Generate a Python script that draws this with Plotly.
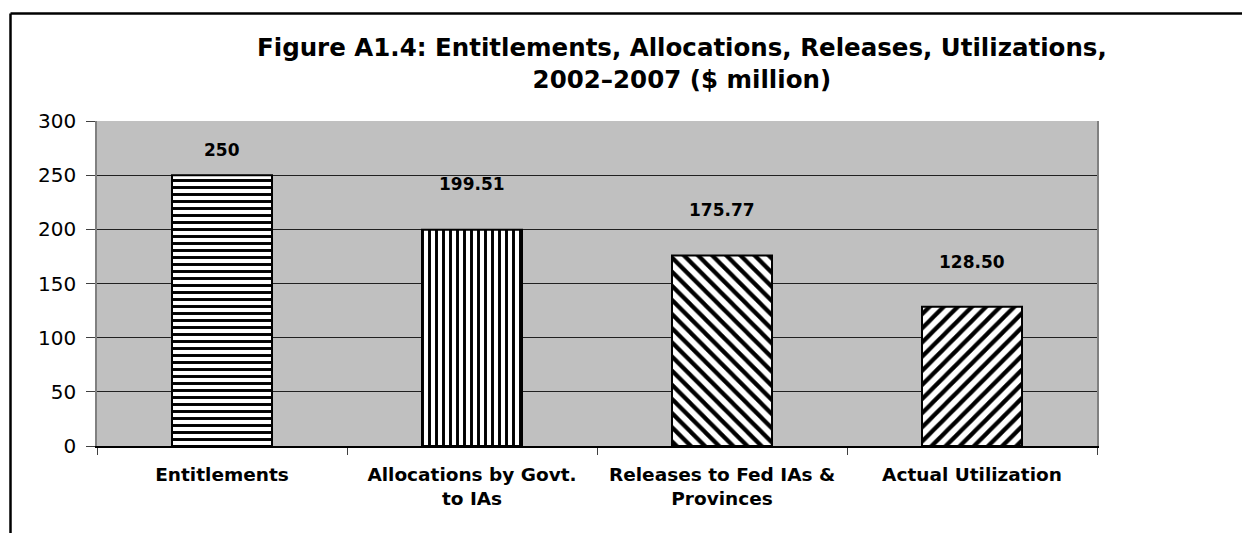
import plotly.graph_objects as go

categories = ["Entitlements", "Allocations by Govt.<br>to IAs", "Releases to Fed IAs &<br>Provinces", "Actual Utilization"]
values = [250, 199.51, 175.77, 128.50]
value_labels = ["250", "199.51", "175.77", "128.50"]
y_ticks = [0, 50, 100, 150, 200, 250, 300]

patterns = ["-", "|", "\\", "/"]
pattern_sizes = [7, 7, 10, 10]
label_shifts = [13, 34, 34, 33]

FONT = "DejaVu Sans, Arial"

fig = go.Figure()
fig.add_trace(go.Bar(
    x=categories, y=values,
    marker=dict(
        color="white",
        line=dict(color="black", width=2),
        pattern=dict(shape=patterns, fgcolor="black", bgcolor="white",
                     size=pattern_sizes, solidity=0.42, fillmode="replace"),
    ),
    width=0.4,
    hoverinfo="skip",
))

for c, v, t, s in zip(categories, values, value_labels, label_shifts):
    fig.add_annotation(x=c, y=v, text="<b>%s</b>" % t, showarrow=False,
                       yanchor="bottom", yshift=s,
                       font=dict(family=FONT, size=17, color="black"))

fig.add_annotation(
    text="<b>Figure A1.4: Entitlements, Allocations, Releases, Utilizations,<br>2002–2007 ($ million)</b>",
    xref="paper", yref="paper", x=0.585, y=1.178, xanchor="center", yanchor="middle",
    showarrow=False, font=dict(family=FONT, size=24.5, color="black"))

# outer frame (top and left edges visible)
fig.add_shape(type="line", xref="paper", yref="paper", x0=-0.0865, x1=1.2, y0=1.3308, y1=1.3308,
              line=dict(color="black", width=2.5))
fig.add_shape(type="line", xref="paper", yref="paper", x0=-0.0865, x1=-0.0865, y0=1.3308, y1=-0.3,
              line=dict(color="black", width=2.5))

fig.update_layout(
    width=1242, height=533,
    margin=dict(l=97, r=145, t=121, b=87),
    paper_bgcolor="white", plot_bgcolor="#C0C0C0",
    showlegend=False,
    bargap=0.6,
    font=dict(family=FONT, color="black"),
)
fig.update_xaxes(
    type="category", tickson="boundaries", ticks="outside", ticklen=7, tickcolor="#404040",
    showline=True, linecolor="black", linewidth=1.5, showgrid=False,
    tickfont=dict(size=18.5, family=FONT, color="black", weight="bold"),
    ticklabelstandoff=11,
)
fig.update_yaxes(
    range=[0, 300], tickvals=y_ticks, ticks="outside", ticklen=9, tickcolor="#404040",
    showline=True, linecolor="#808080", linewidth=1.5, mirror=True,
    showgrid=True, gridcolor="#202020", gridwidth=1, zeroline=False,
    tickfont=dict(size=20, family=FONT, color="black"),
    ticklabelstandoff=6,
)

fig.write_html("out.html")
